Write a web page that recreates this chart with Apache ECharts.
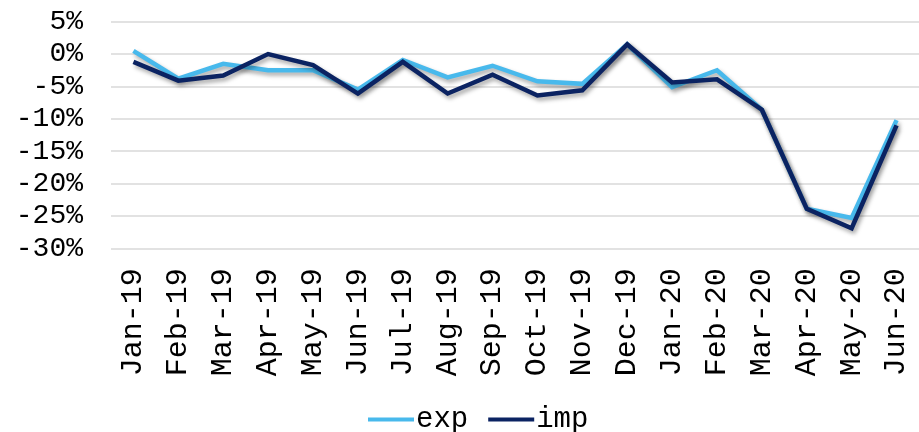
<!DOCTYPE html>
<html>
<head>
<meta charset="utf-8">
<script src="https://cdn.jsdelivr.net/npm/echarts@6/dist/echarts.min.js"></script>
<style>
  html, body { margin: 0; padding: 0; background: #ffffff; }
  #chart { width: 919px; height: 432px; }
</style>
</head>
<body>
<div id="chart"></div>
<script>
// Monthly year-on-year change, exports vs imports (%)
const months = ['Jan-19', 'Feb-19', 'Mar-19', 'Apr-19', 'May-19', 'Jun-19', 'Jul-19', 'Aug-19', 'Sep-19',
  'Oct-19', 'Nov-19', 'Dec-19', 'Jan-20', 'Feb-20', 'Mar-20', 'Apr-20', 'May-20', 'Jun-20'];
const expValues = [0.5, -3.8, -1.5, -2.5, -2.5, -5.5, -0.9, -3.6, -1.8, -4.2, -4.6, 1.5, -5.1, -2.5, -8.6, -23.9, -25.3, -10.2];
const impValues = [-1.2, -4.1, -3.3, 0.0, -1.7, -6.1, -1.2, -6.1, -3.2, -6.4, -5.6, 1.5, -4.4, -3.9, -8.6, -23.9, -26.9, -11.0];
const yMin = -30;
const yMax = 5;
const yStep = 5;

const FONT = '"Liberation Mono", "DejaVu Sans Mono", monospace';
const EXP_COLOR = '#48B9EC';
const IMP_COLOR = '#0B2362';

const shadow = {
  shadowColor: 'rgba(0, 0, 0, 0.35)',
  shadowBlur: 4,
  shadowOffsetX: 2,
  shadowOffsetY: 3
};

const chart = echarts.init(document.getElementById('chart'), null, { renderer: 'canvas' });

chart.setOption({
  animation: false,
  backgroundColor: '#ffffff',
  grid: {
    left: 111,
    top: 21.7,
    width: 818,
    height: 226.6,
    containLabel: false
  },
  legend: {
    data: [
      { name: 'exp', icon: 'rect' },
      { name: 'imp', icon: 'rect' }
    ],
    left: 363,
    top: 400,
    itemWidth: 46,
    itemHeight: 4,
    itemGap: 20,
    textStyle: { fontFamily: FONT, fontSize: 29, color: '#000000', padding: [0, 0, 0, -3] }
  },
  xAxis: {
    type: 'category',
    data: months,
    boundaryGap: true,
    axisLine: { show: false },
    axisTick: { show: false },
    axisLabel: {
      rotate: 90,
      interval: 0,
      margin: 20,
      fontFamily: FONT,
      fontSize: 30,
      color: '#000000'
    },
    splitLine: { show: false }
  },
  yAxis: {
    type: 'value',
    min: yMin,
    max: yMax,
    interval: yStep,
    axisLine: { show: false },
    axisTick: { show: false },
    axisLabel: {
      margin: 28,
      fontFamily: FONT,
      fontSize: 28,
      color: '#000000',
      formatter: v => v + '%'
    },
    splitLine: { show: true, lineStyle: { color: '#d9d9d9', width: 1.5 } }
  },
  series: [
    {
      name: 'exp',
      type: 'line',
      data: expValues,
      symbol: 'none',
      color: EXP_COLOR,
      lineStyle: Object.assign({ width: 4.5, color: EXP_COLOR, join: 'miter' }, shadow),
      z: 2
    },
    {
      name: 'imp',
      type: 'line',
      data: impValues,
      symbol: 'none',
      color: IMP_COLOR,
      lineStyle: Object.assign({ width: 4.5, color: IMP_COLOR, join: 'miter' }, shadow),
      z: 3
    }
  ]
});
</script>
</body>
</html>
